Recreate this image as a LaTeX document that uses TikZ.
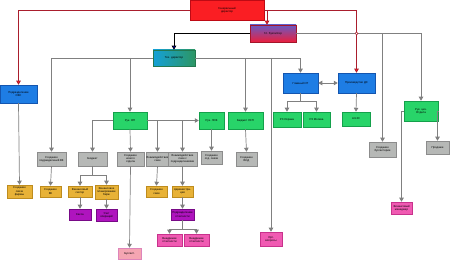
\documentclass[tikz,border=0pt]{standalone}
\usepackage{fontspec}
\setmainfont{Liberation Sans}
\usetikzlibrary{arrows.meta}
\definecolor{cred}{RGB}{250,30,35}
\definecolor{credd}{RGB}{190,10,20}
\definecolor{cline}{RGB}{128,128,128}
\definecolor{cdred}{RGB}{170,30,45}
\definecolor{cglbt}{RGB}{105,90,195}
\definecolor{cglbb}{RGB}{235,30,60}
\definecolor{ctealL}{RGB}{20,160,215}
\definecolor{ctealR}{RGB}{45,150,100}
\definecolor{cblue}{RGB}{30,125,228}
\definecolor{cblued}{RGB}{20,85,175}
\definecolor{cgreen}{RGB}{40,212,105}
\definecolor{cgreend}{RGB}{20,160,75}
\definecolor{cgray}{RGB}{182,184,182}
\definecolor{cgrayd}{RGB}{140,140,140}
\definecolor{corange}{RGB}{232,178,55}
\definecolor{coranged}{RGB}{190,140,30}
\definecolor{cpurple}{RGB}{175,20,190}
\definecolor{cpurpled}{RGB}{120,10,135}
\definecolor{cpink}{RGB}{240,90,178}
\definecolor{cpinkd}{RGB}{200,50,140}
\definecolor{clpink}{RGB}{245,165,178}
\newcommand\mybox[7]{\node[#6, minimum width={(#4-#2)*1pt}, minimum height={(#5-#3)*1pt}] (#1) at ({(#2+#4)/2},{(#3+#5)/2}) {#7};}
\tikzset{
  bx/.style={draw, line width=0.5pt, inner sep=0.3pt, align=center, font=\fontsize{2.8}{3.2}\selectfont},
  redb/.style={bx, fill=cred, draw=credd},
  glbb/.style={bx, top color=cglbt, bottom color=cglbb, draw=cglbb!70!black},
  tealb/.style={bx, left color=ctealL, right color=ctealR, draw=ctealR!80!black},
  blueb/.style={bx, fill=cblue, draw=cblued},
  greenb/.style={bx, fill=cgreen, draw=cgreend},
  grayb/.style={bx, fill=cgray, draw=cgrayd},
  orb/.style={bx, fill=corange, draw=coranged},
  purb/.style={bx, fill=cpurple, draw=cpurpled},
  pinkb/.style={bx, fill=cpink, draw=cpinkd},
  lpinkb/.style={bx, fill=clpink, draw=cpinkd!60},
  ln/.style={draw=cline, line width=0.7pt},
  ar/.style={ln, -{Triangle[width=4.5pt,length=4pt]}},
  artwo/.style={ln, {Triangle[width=4.5pt,length=4pt]}-{Triangle[width=4.5pt,length=4pt]}},
  redl/.style={draw=cdred, line width=0.7pt, -{Triangle[width=4.5pt,length=4pt,fill=cred]}},
  blkl/.style={draw=black, line width=0.7pt, -{Triangle[width=4.5pt,length=4pt,fill=blue!80!black]}},
}
\begin{document}
\begin{tikzpicture}[x=1pt,y=-1pt]
\useasboundingbox (0,0) rectangle (455,261);
% top level
\mybox{gd}{190}{0}{264}{20}{redb}{Генеральный\\директор}
\mybox{glb}{250}{25}{296}{42}{glbb}{Гл. бухгалтер}
\mybox{teal}{153}{50}{195}{66}{tealb}{Тех. директор}
\mybox{oks}{0}{85}{37}{103}{blueb}{Подразделение\\ОКС}
\mybox{glit}{283}{73}{318}{93}{blueb}{Главный ИТ}
\mybox{pds}{338}{73}{375}{93}{blueb}{Производство ДС}
% green
\mybox{rzo}{273}{112}{301}{127}{greenb}{РЗ Охрана}
\mybox{rzm}{303}{112}{330}{127}{greenb}{РЗ Москва}
\mybox{az}{342}{112}{370}{126}{greenb}{АЗ-30}
\mybox{rukc}{404}{101}{438}{121}{greenb}{Рук. цех.\\Отдела}
\mybox{rukop}{113}{112}{147}{129}{greenb}{Рук. ОП}
\mybox{rlok}{199}{112}{224}{129}{greenb}{Рук. ЛОК}
\mybox{bls}{228}{112}{263}{129}{greenb}{Бюджет ЛСП}
% gray
\mybox{vk}{37}{152}{66}{166}{grayb}{Создание\\подразделений ВК}
\mybox{bud}{78}{152}{107}{166}{grayb}{Бюджет}
\mybox{sotd}{117}{152}{144}{166}{grayb}{Создание\\нового\\отдела}
\mybox{vz1}{146}{152}{169}{166}{grayb}{Взаимодействие\\схем}
\mybox{vz2}{168}{152}{197}{166}{grayb}{Взаимодействие\\схем с\\подразделениями}
\mybox{sos}{201}{151}{222}{164}{grayb}{Создание\\отд. связи}
\mybox{vsd}{236}{152}{257}{166}{grayb}{Создание\\ВСД}
\mybox{sbuh}{369}{142}{396}{157}{grayb}{Создание\\бухгалтерии}
\mybox{prod}{426}{141}{449}{154}{grayb}{Продажи}
% orange
\mybox{osv}{7}{185}{32}{198}{orb}{Создание\\связи\\фирмы}
\mybox{ovk}{40}{186}{61}{197}{orb}{Создание\\ВК}
\mybox{of1}{68}{186}{92}{197}{orb}{Финансовый\\сектор}
\mybox{of2}{95}{185}{118}{199}{orb}{Финансовое\\планирование\\бирж}
\mybox{osh}{146}{186}{167}{197}{orb}{Создание\\схем}
\mybox{oadm}{172}{186}{193}{197}{orb}{Администра-\\ция}
% purple / pink
\mybox{m1}{69}{209}{91}{220}{purb}{Касса}
\mybox{m2}{96}{209}{117}{221}{purb}{Учет\\операций}
\mybox{pur}{171}{209}{194}{220}{purb}{Подразделение\\отчетности}
\mybox{p1}{157}{234}{182}{246}{pinkb}{Внедрение\\отчетности}
\mybox{p2}{184}{234}{209}{246}{pinkb}{Внедрение\\отчетности}
\mybox{bux}{118}{248}{141}{259}{lpinkb}{Бухгалт.}
\mybox{org}{260}{232}{282}{246}{pinkb}{Орг.\\вопросы}
\mybox{fin}{391}{202}{412}{214}{pinkb}{Финансовый\\менеджер}
% junction coordinates
\coordinate (jit) at (300.5,101);
\coordinate (jbud) at (92.5,175);
\coordinate (jpur) at (182.5,229);
% red lines from the director
\draw[redl] (gd.west) -| (oks.north);
\draw[redl] (gd.east) -| (pds.north);
\draw[redl] ([xshift=-6pt]glb.north |- gd.east) -- ([xshift=-6pt]glb.north);
% chief accountant
\draw[blkl] (glb.west) -| (teal.north);
\draw[ar] (glb.east) -| (rukc.north);
\draw[ar] (glb.east -| sbuh.north) -- (sbuh.north);
\draw[draw=cdred, line width=0.5pt, fill=white] (pds.north |- glb.east) circle (1.4pt);
% tech director
\draw[ar] (teal.west) -| (vk.north);
\draw[ar] (teal.west -| rukop.north) -- (rukop.north);
\draw[ar] (teal.east) -| (glit.north);
\draw[ar] (teal.east -| bls.north) -- (bls.north);
\draw[ar] (teal.east -| org.north) -- (org.north);
% IT and production
\draw[artwo] (glit.east) -- (pds.west);
\draw[ln] (glit.south) -- (jit);
\draw[ar] (jit) -| (rzo.north);
\draw[ar] (jit) -| (rzm.north);
\draw[ar] (pds.south) -- (az.north);
% shop head
\draw[ar] (rukc.west) -| (fin.north);
\draw[ar] (rukc.east) -| (prod.north);
% left branch
\draw[ar] (oks.south) -- (osv.north);
\draw[ar] (vk.south) -- (ovk.north);
% Рук. ОП
\draw[ar] (rukop.west) -| (bud.north);
\draw[ar] (rukop.south) -- (sotd.north);
\draw[ar] (rukop.east) -- (rlok.west);
\draw[ar] (rukop.east -| vz1.north) -- (vz1.north);
\draw[ar] (rukop.east -| vz2.north) -- (vz2.north);
\draw[ar] (rlok.south) -- (sos.north);
\draw[ar] (bls.south) -- (vsd.north);
% budget
\draw[ln] (bud.south) -- (jbud);
\draw[ar] (jbud) -| (of1.north);
\draw[ar] (jbud) -| (of2.north);
\draw[ar] (of1.south) -- (m1.north);
\draw[ar] (of2.south) -- (m2.north);
% schemes
\draw[ar] (vz1.south) -- (osh.north);
\draw[ar] (vz2.south) -- (oadm.north);
\draw[ar] (oadm.south) -- (pur.north);
\draw[ln] (pur.south) -- (jpur);
\draw[ar] (jpur) -| (p1.north);
\draw[ar] (jpur) -| (p2.north);
\draw[ar] (sotd.south) -- (bux.north);
\end{tikzpicture}
\end{document}
